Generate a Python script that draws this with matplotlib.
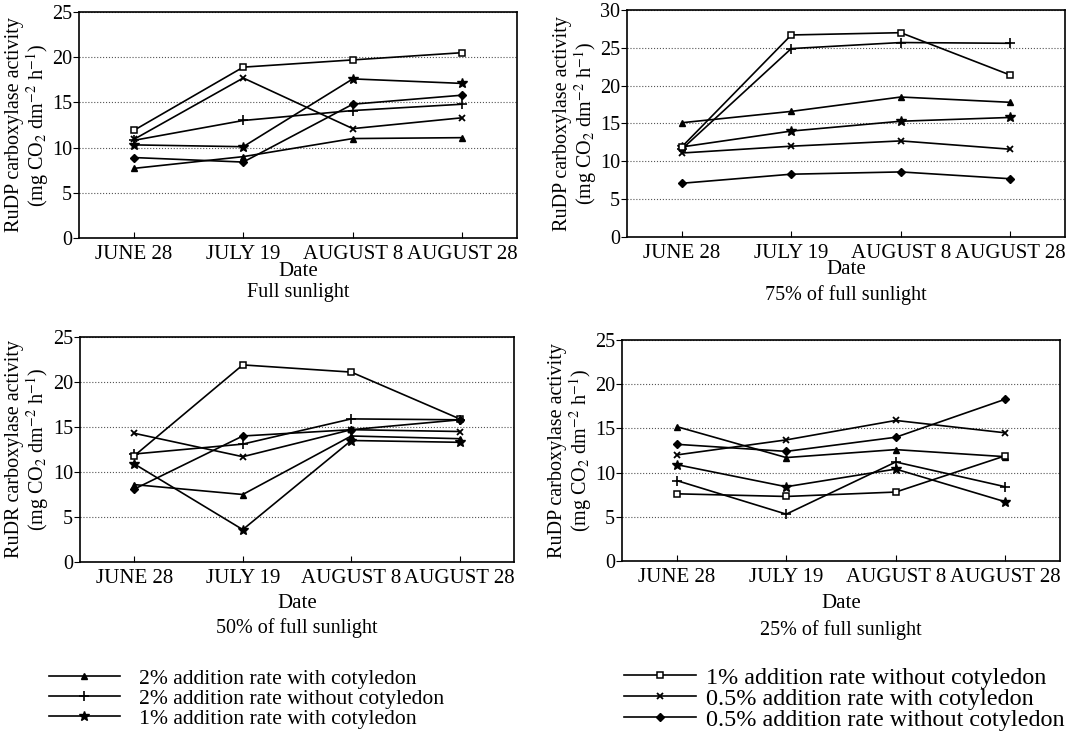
import matplotlib
matplotlib.use('Agg')
import matplotlib.pyplot as plt
from matplotlib.lines import Line2D

plt.rcParams['font.family'] = ['Liberation Serif', 'DejaVu Serif']
plt.rcParams['mathtext.fontset'] = 'stix'

dates = ['JUNE 28', 'JULY 19', 'AUGUST 8', 'AUGUST 28']
series_names = ['2% addition rate with cotyledon',
                '2% addition rate without cotyledon',
                '1% addition rate with cotyledon',
                '1% addition rate without cotyledon',
                '0.5% addition rate with cotyledon',
                '0.5% addition rate without cotyledon']

# values per panel, order as series_names
full_sun = [[7.7, 9.0, 11.0, 11.1],
            [10.8, 13.0, 14.1, 14.8],
            [10.3, 10.1, 17.6, 17.1],
            [11.9, 18.9, 19.7, 20.5],
            [10.9, 17.7, 12.1, 13.3],
            [8.9, 8.4, 14.8, 15.8]]
sun_75 = [[15.1, 16.6, 18.5, 17.8],
          [11.6, 24.9, 25.7, 25.6],
          [11.9, 14.0, 15.3, 15.8],
          [11.9, 26.7, 27.0, 21.4],
          [11.1, 12.0, 12.7, 11.6],
          [7.1, 8.3, 8.6, 7.7]]
sun_50 = [[8.6, 7.5, 14.0, 13.7],
          [12.0, 13.1, 15.9, 15.8],
          [10.9, 3.6, 13.5, 13.3],
          [11.8, 21.9, 21.1, 15.9],
          [14.3, 11.7, 14.7, 14.5],
          [8.1, 14.0, 14.7, 15.8]]
sun_25 = [[15.2, 11.7, 12.6, 11.8],
          [9.1, 5.3, 11.2, 8.4],
          [10.9, 8.4, 10.4, 6.7],
          [7.6, 7.3, 7.8, 11.9],
          [12.0, 13.7, 15.9, 14.5],
          [13.2, 12.4, 14.0, 18.3]]

panels = [(full_sun, 'Full sunlight', 25, 'RuDP'),
          (sun_75, '75% of full sunlight', 30, 'RuDP'),
          (sun_50, '50% of full sunlight', 25, 'RuDR'),
          (sun_25, '25% of full sunlight', 25, 'RuDP')]

markers = [dict(marker='^', ms=4, mfc='black'),
           dict(marker='+', ms=7, mew=1.2),
           dict(marker='*', ms=7, mfc='black'),
           dict(marker='s', ms=5, mfc='white', mew=1.1),
           dict(marker='x', ms=5, mew=1.3),
           dict(marker='D', ms=4, mfc='black')]

W, H = 1079, 734
# axes boxes in pixels: left, top, right, bottom
boxes_px = [(79, 12, 517, 238),
            (627, 10, 1065, 237),
            (80, 337, 514, 562),
            (622, 340, 1060, 561)]
ylab_x = [28, 576, 28, 571]
date_y = [272, 270, 603, 603]
sub_y = [293, 295, 628, 630]

fig = plt.figure(figsize=(10.79, 7.34), dpi=100)

for i, (vals, title, ymax, enz) in enumerate(panels):
    l, t, r, b = boxes_px[i]
    ax = fig.add_axes([l / W, 1 - b / H, (r - l) / W, (b - t) / H])
    x = range(len(dates))
    for v, m in zip(vals, markers):
        ax.plot(x, v, color='black', lw=1.2, **m)
    ax.set_xlim(-0.5, 3.5)
    ax.set_ylim(0, ymax)
    ax.set_yticks(range(0, ymax + 1, 5))
    ax.set_xticks(list(x))
    ax.set_xticklabels(dates, fontsize=15)
    ax.tick_params(axis='x', direction='in', length=4, pad=5)
    ax.tick_params(axis='y', direction='out', length=4, labelsize=14.5, pad=1)
    ax.grid(axis='y', linestyle=':', color='#555555', lw=0.8)
    for s in ax.spines.values():
        s.set_linewidth(1.2)
    ax.set_ylabel(enz + ' carboxylase activity\n' +
                  r'(mg CO$_2$ dm$^{-2}$ h$^{-1}$)', fontsize=14.5,
                  linespacing=1.0, va='center', ha='center')
    ax.yaxis.set_label_coords((ylab_x[i] - l) / (r - l), 0.5)
    cx = (l + r) / 2 / W
    fig.text(cx, 1 - date_y[i] / H, 'Date', ha='center', va='center',
             fontsize=15)
    fig.text(cx, 1 - sub_y[i] / H, title, ha='center', va='center',
             fontsize=14.5)

handles = [Line2D([], [], color='black', lw=1.2, **m) for m in markers]
fig.legend(handles[:3], series_names[:3], loc='upper left',
           bbox_to_anchor=(0.035, 0.104), frameon=False, fontsize=15.6,
           handlelength=3.3, labelspacing=0.0, handletextpad=0.85,
           borderpad=0)
fig.legend(handles[3:], series_names[3:], loc='upper left',
           bbox_to_anchor=(0.567, 0.108), frameon=False, fontsize=17.4,
           handlelength=3.0, labelspacing=-0.04, handletextpad=0.4,
           borderpad=0)

fig.savefig('out.png', dpi=100)
